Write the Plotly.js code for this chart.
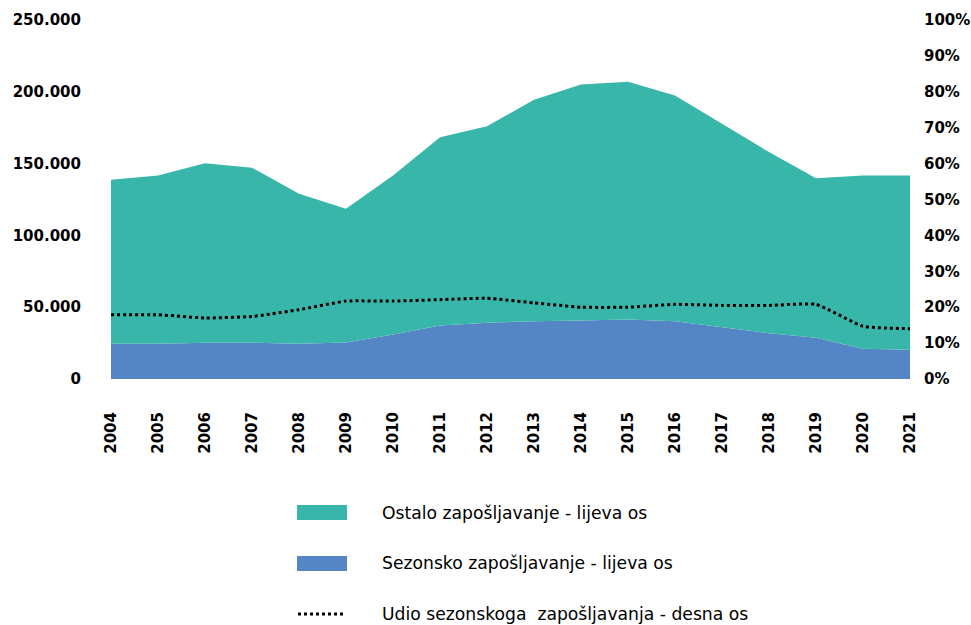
<!DOCTYPE html>
<html>
<head>
<meta charset="utf-8">
<script src="https://cdn.plot.ly/plotly-3.0.1.min.js"></script>
<style>html,body{margin:0;padding:0;background:#fff;}#chart{width:971px;height:625px;}</style>
</head>
<body>
<div id="chart"></div>
<script>
const years = [2004,2005,2006,2007,2008,2009,2010,2011,2012,2013,2014,2015,2016,2017,2018,2019,2020,2021];
const sezonsko = [24500,24500,25200,25200,24500,25400,31000,37300,39100,40300,40700,41400,40300,36100,31900,28700,21000,20300];
const ostalo = [114200,117200,125100,121900,104500,93100,110700,131100,136900,154100,164400,165600,157100,141600,126100,111100,120700,121400];
const udio = [0.179,0.179,0.170,0.174,0.193,0.217,0.217,0.221,0.225,0.212,0.200,0.200,0.208,0.205,0.205,0.208,0.147,0.140];
const names = ['Ostalo zapošljavanje - lijeva os','Sezonsko zapošljavanje - lijeva os','Udio sezonskoga  zapošljavanja - desna os'];
const leftTicks = [0,50000,100000,150000,200000,250000];
const rightTicks = [0,0.1,0.2,0.3,0.4,0.5,0.6,0.7,0.8,0.9,1.0];

const teal = 'rgb(57,182,170)';
const blue = 'rgb(84,134,198)';
const tickFont = {family:'DejaVu Sans, sans-serif', size:15, color:'#000', weight:'bold'};
const legFont = {family:'DejaVu Sans, sans-serif', size:17.2, color:'#000'};

const traces = [
  {x:years, y:sezonsko, type:'scatter', mode:'lines', stackgroup:'one', line:{width:0,color:blue}, fillcolor:blue, name:names[1]},
  {x:years, y:ostalo, type:'scatter', mode:'lines', stackgroup:'one', line:{width:0,color:teal}, fillcolor:teal, name:names[0]},
  {x:years, y:udio, type:'scatter', mode:'lines', yaxis:'y2', line:{width:3,color:'#000',dash:'dot',shape:'spline',smoothing:0.4}, name:names[2]}
];

const px = v => (v-111)/799;
const py = v => (379-v)/359;

const layout = {
  width:971, height:625,
  margin:{l:111, r:61, t:20, b:246},
  paper_bgcolor:'#fff', plot_bgcolor:'#fff',
  showlegend:false,
  separators:',.',
  hovermode:false,
  xaxis:{type:'linear', range:[2004,2021], tickvals:years, ticktext:years.map(String), tickangle:-90,
    showgrid:false, zeroline:false, showline:false, ticks:'', tickfont:tickFont, ticklabelstandoff:29},
  yaxis:{range:[0,250000], tickvals:leftTicks, tickformat:',d', showgrid:false, zeroline:false, showline:false,
    ticks:'', tickfont:tickFont, ticklabelstandoff:29},
  yaxis2:{range:[0,1], overlaying:'y', side:'right', tickvals:rightTicks, tickformat:'.0%', showgrid:false,
    zeroline:false, showline:false, ticks:'', tickfont:tickFont, ticklabelstandoff:13},
  shapes:[
    {type:'rect', xref:'paper', yref:'paper', x0:px(297), x1:px(347), y0:py(520), y1:py(505), fillcolor:teal, line:{width:0}},
    {type:'rect', xref:'paper', yref:'paper', x0:px(297), x1:px(347), y0:py(571), y1:py(556), fillcolor:blue, line:{width:0}},
    {type:'line', xref:'paper', yref:'paper', x0:px(298), x1:px(346), y0:py(614), y1:py(614), line:{color:'#000', width:3, dash:'dot'}}
  ],
  annotations:[
    {xref:'paper', yref:'paper', x:px(380), y:py(513), text:names[0], showarrow:false, xanchor:'left', yanchor:'middle', font:legFont},
    {xref:'paper', yref:'paper', x:px(380), y:py(563), text:names[1], showarrow:false, xanchor:'left', yanchor:'middle', font:legFont},
    {xref:'paper', yref:'paper', x:px(380), y:py(614), text:names[2], showarrow:false, xanchor:'left', yanchor:'middle', font:legFont}
  ]
};

Plotly.newPlot('chart', traces, layout, {staticPlot:true, displayModeBar:false});
</script>
</body>
</html>
